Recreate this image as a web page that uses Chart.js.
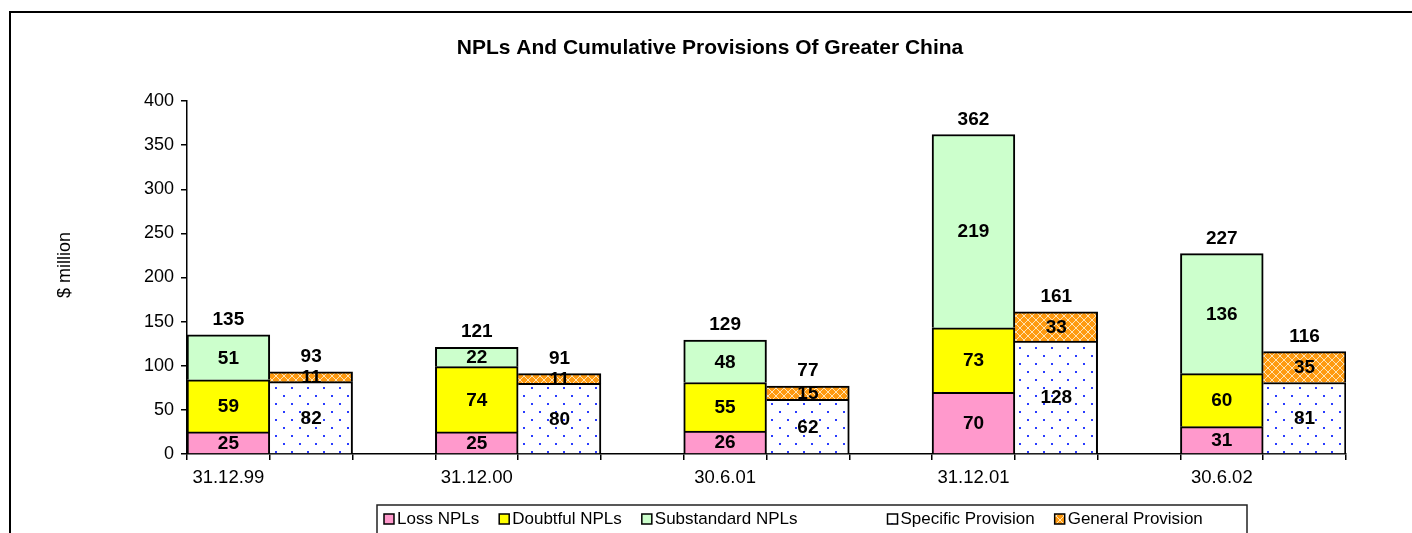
<!DOCTYPE html>
<html>
<head>
<meta charset="utf-8">
<script src="https://cdn.jsdelivr.net/npm/chart.js@4"></script>
<style>
  body { margin: 0; background: #fff; }
</style>
</head>
<body>
<canvas id="npl-chart" width="1412" height="533"></canvas>
<script>
// values ($ million)
const dates = ['31.12.99', '31.12.00', '30.6.01', '31.12.01', '30.6.02'];
const lossNPLs = [25, 25, 26, 70, 31];
const doubtfulNPLs = [59, 74, 55, 73, 60];
const substandardNPLs = [51, 22, 48, 219, 136];
const specificProvision = [82, 80, 62, 128, 81];
const generalProvision = [11, 11, 15, 33, 35];
const yTicks = [0, 50, 100, 150, 200, 250, 300, 350, 400];
const chartTitle = 'NPLs And Cumulative Provisions Of Greater China';

// each date takes three slots: NPL bar, provision bar, empty gap (no gap after last)
const slotCount = dates.length * 3 - 1;
const labels = [];
for (let i = 0; i < slotCount; i++) {
    labels.push(i % 3 === 0 ? dates[i / 3] : '');
}

function spread(values, offset) {
    const out = new Array(slotCount).fill(null);
    values.forEach((v, i) => { out[i * 3 + offset] = v; });
    return out;
}

const canvas = document.querySelector('#npl-chart');
const ctx = canvas.getContext('2d');

function dotPattern() {
    const c = document.createElement('canvas');
    c.width = 16; c.height = 16;
    const g = c.getContext('2d');
    g.fillStyle = '#ffffff';
    g.fillRect(0, 0, 16, 16);
    g.fillStyle = '#2a3cff';
    g.fillRect(3, 3, 2, 2);
    g.fillRect(11, 11, 2, 2);
    return ctx.createPattern(c, 'repeat');
}

function trellisPattern() {
    const c = document.createElement('canvas');
    c.width = 8; c.height = 8;
    const g = c.getContext('2d');
    g.fillStyle = '#ff9a10';
    g.fillRect(0, 0, 8, 8);
    g.strokeStyle = 'rgba(255,232,190,0.95)';
    g.lineWidth = 1;
    g.beginPath();
    g.moveTo(0, 4); g.lineTo(4, 0); g.lineTo(8, 4); g.lineTo(4, 8); g.closePath();
    g.stroke();
    return ctx.createPattern(c, 'repeat');
}

const nplBorder = { top: 2, left: 2, right: 2, bottom: 0 };
const provBorder = { top: 2, left: 0, right: 2, bottom: 0 };

const datasets = [
    { label: 'Loss NPLs', data: spread(lossNPLs, 0), backgroundColor: '#ff99cc', borderWidth: nplBorder },
    { label: 'Doubtful NPLs', data: spread(doubtfulNPLs, 0), backgroundColor: '#ffff00', borderWidth: nplBorder },
    { label: 'Substandard NPLs', data: spread(substandardNPLs, 0), backgroundColor: '#ccffcc', borderWidth: nplBorder },
    { label: 'Specific Provision', data: spread(specificProvision, 1), backgroundColor: dotPattern(), borderWidth: provBorder },
    { label: 'General Provision', data: spread(generalProvision, 1), backgroundColor: trellisPattern(), borderWidth: provBorder }
];
datasets.forEach(d => {
    d.borderColor = '#000';
    d.borderSkipped = false;
    d.categoryPercentage = 1;
    d.barPercentage = 1;
});

const FONT = "'Liberation Sans', Arial, sans-serif";

// frame, title, y title, value labels, totals and legend box
const decorations = {
    id: 'decorations',
    beforeDraw(chart) {
        const c = chart.ctx;
        c.save();
        c.fillStyle = '#fff';
        c.fillRect(0, 0, chart.width, chart.height);
        c.strokeStyle = '#000';
        c.lineWidth = 2;
        c.strokeRect(10, 12, 1500, 700);
        c.restore();
    },
    afterDraw(chart) {
        const c = chart.ctx;
        const x = chart.scales.x;
        const y = chart.scales.y;
        c.save();

        c.fillStyle = '#000';
        c.textAlign = 'center';
        c.textBaseline = 'middle';

        // title
        c.font = 'bold 21px ' + FONT;
        c.fillText(chartTitle, 710, 48);

        // y axis title
        c.font = '18px ' + FONT;
        c.translate(65, 265);
        c.rotate(-Math.PI / 2);
        c.fillText('$ million', 0, 0);
        c.setTransform(1, 0, 0, 1, 0, 0);

        // segment values
        c.font = 'bold 19px ' + FONT;
        chart.data.datasets.forEach((ds, di) => {
            const meta = chart.getDatasetMeta(di);
            meta.data.forEach((el, i) => {
                const v = ds.data[i];
                if (v === null) return;
                c.fillText(String(v), el.x, (el.y + el.base) / 2 + 1);
            });
        });

        // totals above each bar
        dates.forEach((d, i) => {
            const nplTotal = lossNPLs[i] + doubtfulNPLs[i] + substandardNPLs[i];
            const provTotal = specificProvision[i] + generalProvision[i];
            c.fillText(String(nplTotal), x.getPixelForValue(i * 3), y.getPixelForValue(nplTotal) - 15);
            c.fillText(String(provTotal), x.getPixelForValue(i * 3 + 1), y.getPixelForValue(provTotal) - 15);
        });

        // legend
        c.strokeStyle = '#222';
        c.lineWidth = 1.5;
        c.strokeRect(377, 505, 870, 60);
        c.font = '17px ' + FONT;
        c.textAlign = 'left';
        let lx = 384;
        const ly = 519;
        chart.data.datasets.forEach((ds, di) => {
            if (di === 3) lx += 70;
            c.fillStyle = ds.backgroundColor;
            c.fillRect(lx, ly - 5, 10, 10);
            c.strokeStyle = '#000';
            c.lineWidth = 1.5;
            c.strokeRect(lx, ly - 5, 10, 10);
            c.fillStyle = '#000';
            c.fillText(ds.label, lx + 13, ly);
            lx += 13 + c.measureText(ds.label).width + 20;
        });
        c.restore();
    }
};

new Chart(ctx, {
    type: 'bar',
    data: { labels: labels, datasets: datasets },
    options: {
        responsive: false,
        animation: false,
        devicePixelRatio: 1,
        layout: { padding: { left: 0, right: 66, top: 101, bottom: 39 } },
        plugins: {
            legend: { display: false },
            tooltip: { enabled: false },
            title: { display: false }
        },
        scales: {
            x: {
                stacked: true,
                afterFit: s => { s.height = 40; },
                grid: { display: true, drawOnChartArea: false, drawTicks: true, tickLength: 6, color: '#000', lineWidth: 1.5, offset: true },
                border: { display: true, color: '#000', width: 1.5 },
                ticks: { autoSkip: false, maxRotation: 0, color: '#000', padding: 7, font: { family: FONT, size: 18.5 } }
            },
            y: {
                stacked: true,
                min: 0,
                max: 400,
                afterFit: s => { s.width = 187; },
                afterBuildTicks: s => { s.ticks = yTicks.map(v => ({ value: v })); },
                grid: { display: true, drawOnChartArea: false, drawTicks: true, tickLength: 6, color: '#000', lineWidth: 1.5 },
                border: { display: true, color: '#000', width: 1.5 },
                ticks: { color: '#000', padding: 7, font: { family: FONT, size: 18 } }
            }
        }
    },
    plugins: [decorations]
});
</script>
</body>
</html>
